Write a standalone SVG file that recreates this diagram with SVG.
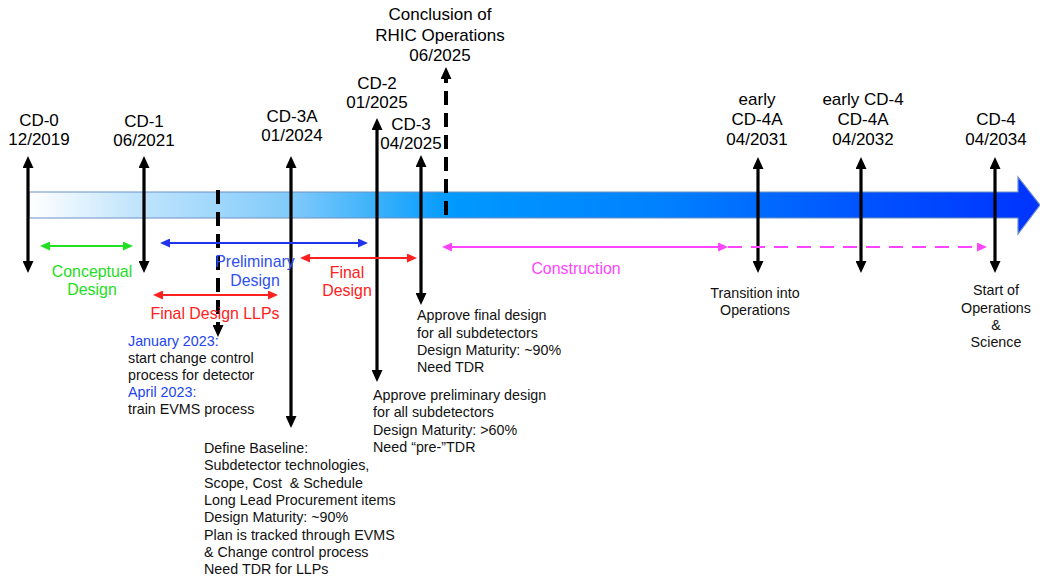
<svg xmlns="http://www.w3.org/2000/svg" width="1040" height="577" viewBox="0 0 1040 577">
<style>
text{font-family:"Liberation Sans",Arial,sans-serif;}
.lbl{font-size:17px;fill:#000;text-anchor:middle;}
.ph{font-size:15.9px;text-anchor:middle;}
.note{font-size:14.3px;fill:#111;}
.mid{text-anchor:middle;}
.blk{stroke:#000;stroke-width:3.2;fill:none;marker-start:url(#mk);marker-end:url(#mk);}
.dsh{stroke:#000;stroke-width:4;fill:none;stroke-dasharray:14 8;}
.g{stroke:#22e022;stroke-width:2;marker-start:url(#mg);marker-end:url(#mg);}
.b{stroke:#2233ee;stroke-width:2;marker-start:url(#mb);marker-end:url(#mb);}
.r{stroke:#ff2020;stroke-width:2;marker-start:url(#mr);marker-end:url(#mr);}
.m{stroke:#ff44ff;stroke-width:2;}
</style>
<defs>
<linearGradient id="band" x1="0" y1="0" x2="1" y2="0">
<stop offset="0" stop-color="#ffffff"/>
<stop offset="0.1" stop-color="#c4e6fc"/>
<stop offset="0.26" stop-color="#80cafb"/>
<stop offset="0.34" stop-color="#3db2fb"/>
<stop offset="0.42" stop-color="#0099ff"/>
<stop offset="0.63" stop-color="#0080ff"/>
<stop offset="0.83" stop-color="#0052ff"/>
<stop offset="1" stop-color="#0033ff"/>
</linearGradient>
<marker id="mk" markerUnits="userSpaceOnUse" markerWidth="12" markerHeight="11" viewBox="0 0 12 11" refX="1" refY="5.5" orient="auto-start-reverse"><path d="M0,0 L12,5.5 L0,11 z" fill="#000"/></marker>
<marker id="mg" markerUnits="userSpaceOnUse" markerWidth="10" markerHeight="9" viewBox="0 0 10 9" refX="1" refY="4.5" orient="auto-start-reverse"><path d="M0,0 L10,4.5 L0,9 z" fill="#22e022"/></marker>
<marker id="mb" markerUnits="userSpaceOnUse" markerWidth="10" markerHeight="9" viewBox="0 0 10 9" refX="1" refY="4.5" orient="auto-start-reverse"><path d="M0,0 L10,4.5 L0,9 z" fill="#2233ee"/></marker>
<marker id="mr" markerUnits="userSpaceOnUse" markerWidth="10" markerHeight="9" viewBox="0 0 10 9" refX="1" refY="4.5" orient="auto-start-reverse"><path d="M0,0 L10,4.5 L0,9 z" fill="#ff2020"/></marker>
<marker id="mm" markerUnits="userSpaceOnUse" markerWidth="10" markerHeight="9" viewBox="0 0 10 9" refX="1" refY="4.5" orient="auto-start-reverse"><path d="M0,0 L10,4.5 L0,9 z" fill="#ff44ff"/></marker>
</defs>

<g id="timeline">
<polygon points="29,192 1018,192 1018,177 1040,205 1018,234 1018,218 29,218" fill="url(#band)" stroke="#6f8fc6" stroke-width="1.2"/>
</g>

<g id="connectors">
<line class="dsh" x1="218" y1="190" x2="218" y2="326" marker-end="url(#mk)"/>
<line class="dsh" x1="446" y1="215" x2="446" y2="78" marker-end="url(#mk)"/>
<line class="blk" x1="28" y1="167" x2="28" y2="262"/>
<line class="blk" x1="144" y1="167" x2="144" y2="262"/>
<line class="blk" x1="291" y1="167" x2="291" y2="417"/>
<line class="blk" x1="377" y1="129" x2="377" y2="371"/>
<line class="blk" x1="421" y1="166" x2="421" y2="294"/>
<line class="blk" x1="758" y1="168" x2="758" y2="262"/>
<line class="blk" x1="861" y1="168" x2="861" y2="262"/>
<line class="blk" x1="995" y1="168" x2="995" y2="262"/>
<line class="g" x1="49" y1="246" x2="124" y2="246"/>
<line class="b" x1="169" y1="243" x2="359" y2="243"/>
<line class="r" x1="309" y1="258" x2="408" y2="258"/>
<line class="r" x1="162" y1="295" x2="269" y2="295"/>
<line class="m" x1="451" y1="247" x2="719" y2="247" marker-start="url(#mm)" marker-end="url(#mm)"/>
<line class="m" x1="728" y1="247" x2="978" y2="247" stroke-dasharray="14 9" marker-end="url(#mm)"/>
</g>

<g id="cd0"><text class="lbl" x="39" y="126">CD-0</text><text class="lbl" x="39" y="145">12/2019</text></g>
<g id="cd1"><text class="lbl" x="144" y="127">CD-1</text><text class="lbl" x="144" y="146">06/2021</text></g>
<g id="cd3a"><text class="lbl" x="292" y="122">CD-3A</text><text class="lbl" x="292" y="141">01/2024</text></g>
<g id="cd2"><text class="lbl" x="377" y="89">CD-2</text><text class="lbl" x="377" y="108">01/2025</text></g>
<g id="cd3"><text class="lbl" x="411" y="130">CD-3</text><text class="lbl" x="411" y="149">04/2025</text></g>
<g id="rhic"><text class="lbl" x="440" y="20">Conclusion of</text><text class="lbl" x="440" y="40.5">RHIC Operations</text><text class="lbl" x="440" y="61">06/2025</text></g>
<g id="cd4a-early"><text class="lbl" x="757" y="105">early</text><text class="lbl" x="757" y="125">CD-4A</text><text class="lbl" x="757" y="145">04/2031</text></g>
<g id="cd4a"><text class="lbl" x="863" y="105">early CD-4</text><text class="lbl" x="863" y="125">CD-4A</text><text class="lbl" x="863" y="145">04/2032</text></g>
<g id="cd4"><text class="lbl" x="996" y="125">CD-4</text><text class="lbl" x="996" y="145">04/2034</text></g>

<g id="conceptual"><text class="ph" fill="#22dd22" x="92" y="277">Conceptual</text><text class="ph" fill="#22dd22" x="92" y="295">Design</text></g>
<g id="preliminary"><text class="ph" fill="#3050f0" x="255" y="267">Preliminary</text><text class="ph" fill="#3050f0" x="255" y="285.5">Design</text></g>
<g id="final"><text class="ph" fill="#ff2020" x="347" y="278">Final</text><text class="ph" fill="#ff2020" x="347" y="296">Design</text></g>
<g id="llps"><text class="ph" fill="#ff2020" x="215" y="319">Final Design LLPs</text></g>
<g id="construction"><text class="ph" fill="#ff44ff" x="576" y="274">Construction</text></g>

<g id="note-2023" class="note">
<text x="128" y="346" fill="#2244ee">January 2023:</text>
<text x="128" y="363">start change control</text>
<text x="128" y="380">process for detector</text>
<text x="128" y="397" fill="#2244ee">April 2023:</text>
<text x="128" y="414">train EVMS process</text>
</g>
<g id="note-baseline" class="note">
<text x="204" y="453">Define Baseline:</text>
<text x="204" y="470.3">Subdetector technologies,</text>
<text x="204" y="487.6">Scope, Cost&#160; &amp; Schedule</text>
<text x="204" y="505">Long Lead Procurement items</text>
<text x="204" y="522.2">Design Maturity: ~90%</text>
<text x="204" y="539.5">Plan is tracked through EVMS</text>
<text x="204" y="556.8">&amp; Change control process</text>
<text x="204" y="574">Need TDR for LLPs</text>
</g>
<g id="note-final" class="note">
<text x="417" y="320">Approve final design</text>
<text x="417" y="337.5">for all subdetectors</text>
<text x="417" y="355">Design Maturity: ~90%</text>
<text x="417" y="372">Need TDR</text>
</g>
<g id="note-prelim" class="note">
<text x="373" y="400">Approve preliminary design</text>
<text x="373" y="417">for all subdetectors</text>
<text x="373" y="435">Design Maturity: &gt;60%</text>
<text x="373" y="452">Need “pre-”TDR</text>
</g>
<g id="note-transition" class="note">
<text class="mid" x="755" y="298">Transition into</text>
<text class="mid" x="755" y="315">Operations</text>
</g>
<g id="note-start" class="note">
<text class="mid" x="996" y="295">Start of</text>
<text class="mid" x="996" y="312.5">Operations</text>
<text class="mid" x="996" y="330">&amp;</text>
<text class="mid" x="996" y="347">Science</text>
</g>
</svg>
